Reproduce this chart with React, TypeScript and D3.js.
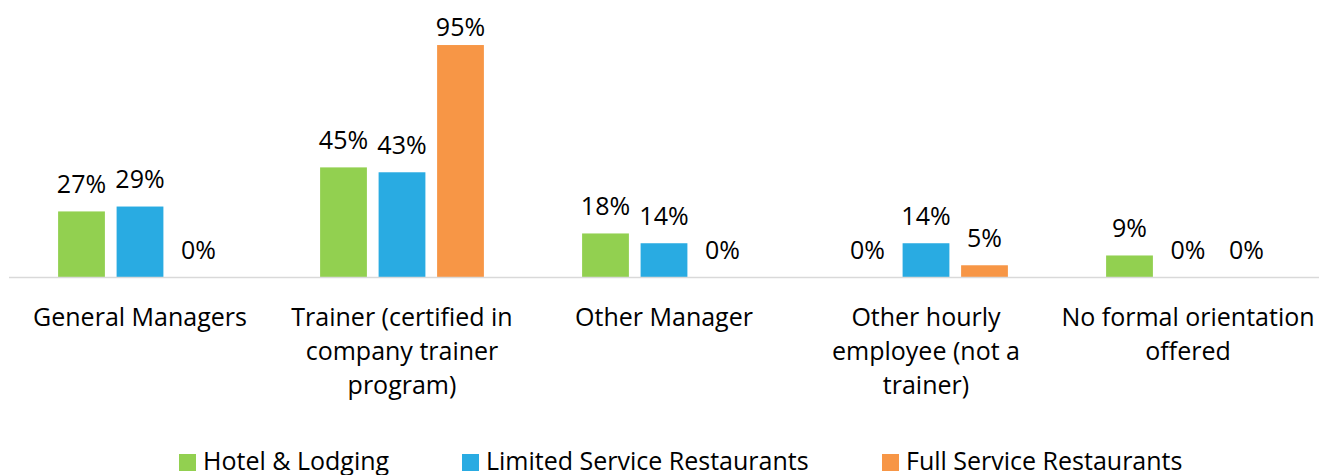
import React from "react";
import * as d3 from "d3";

const categories: string[][] = [
  ["General Managers"],
  ["Trainer (certified in", "company trainer", "program)"],
  ["Other Manager"],
  ["Other hourly", "employee (not a", "trainer)"],
  ["No formal orientation", "offered"],
];
const seriesNames = ["Hotel & Lodging", "Limited Service Restaurants", "Full Service Restaurants"];
const hotelLodging = [27, 45, 18, 0, 9];
const limitedService = [29, 43, 14, 14, 0];
const fullService = [0, 95, 0, 5, 0];
const seriesValues = [hotelLodging, limitedService, fullService];
const colors = ["#92d050", "#29abe2", "#f79646"];

const W = 1327;
const H = 475;
const FONT = "'Open Sans', sans-serif";
const FS = 25;

export default function App() {
  const baseY = 277.5;
  const x0 = d3.scaleBand<number>().domain(d3.range(categories.length)).range([9, 1319]).paddingInner(0).paddingOuter(0);
  const y = d3.scaleLinear().domain([0, 100]).range([baseY, baseY - 244.7]);
  const legendX = [179, 462, 882];

  return (
    <svg width={W} height={H} style={{ position: "absolute", left: 0, top: 0 }} fontFamily={FONT}>
      <rect width={W} height={H} fill="#fff" />
      {categories.map((_, ci) => {
        const c0 = x0(ci)!;
        const center = c0 + x0.bandwidth() / 2;
        const x1 = d3.scaleBand<number>().domain([0, 1, 2]).range([center - 87.75, center + 87.75]).paddingInner(0.2).paddingOuter(0.1);
        return (
          <g key={ci}>
            {seriesValues.map((vals, si) => {
              const v = vals[ci];
              const bx = x1(si)!;
              const top = y(v);
              const labelY = Math.max(36, top - 18.5);
              return (
                <g key={si}>
                  {v > 0 && (
                    <rect x={bx} y={top} width={x1.bandwidth()} height={baseY - top} fill={colors[si]} />
                  )}
                  <text x={bx + x1.bandwidth() / 2} y={labelY} textAnchor="middle" fontSize={FS} fill="#000">
                    {v}%
                  </text>
                </g>
              );
            })}
          </g>
        );
      })}
      <line x1={9} x2={1319} y1={baseY} y2={baseY} stroke="#d9d9d9" strokeWidth={1.5} />
      {categories.map((lines, ci) => {
        const center = x0(ci)! + x0.bandwidth() / 2;
        return (
          <text key={ci} textAnchor="middle" fontSize={FS} fill="#000">
            {lines.map((ln, li) => (
              <tspan key={li} x={center} y={326 + li * 34}>
                {ln}
              </tspan>
            ))}
          </text>
        );
      })}
      {seriesNames.map((name, si) => (
        <g key={si}>
          <rect x={legendX[si]} y={454} width={17} height={17} fill={colors[si]} />
          <text x={legendX[si] + 24} y={470} fontSize={FS} fill="#000">
            {name}
          </text>
        </g>
      ))}
    </svg>
  );
}
